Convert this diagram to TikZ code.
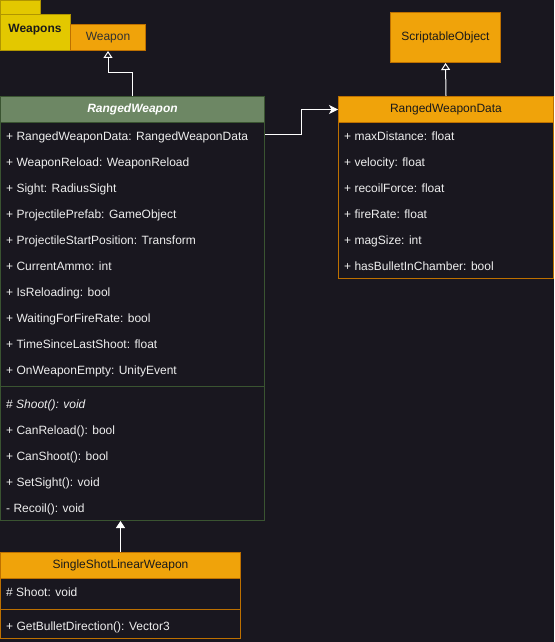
\documentclass[tikz,border=0pt]{standalone}
\usepackage{fontspec}
\setmainfont{Liberation Sans}
\usetikzlibrary{arrows.meta,calc}
\definecolor{bg}{RGB}{25,23,31}
\definecolor{orangefill}{HTML}{F0A30A}
\definecolor{orangeline}{HTML}{BD7000}
\definecolor{greenfill}{HTML}{6D8764}
\definecolor{greenline}{HTML}{3A5431}
\definecolor{yellowfill}{HTML}{E3C800}
\definecolor{yellowline}{HTML}{B09500}
\definecolor{rowtext}{HTML}{EEEEEE}
\definecolor{darktext}{HTML}{1A1A1A}
\begin{document}
\begin{tikzpicture}[x=1pt,y=-1pt,
  font=\fontsize{12}{14}\selectfont,
  classbox/.style={draw=#1, line width=1pt, anchor=north west, inner sep=0pt},
  hdr/.style={fill=#1fill, draw=#1line, line width=1pt, anchor=north west, inner sep=0pt, minimum height=26pt},
  row/.style={anchor=base west, inner sep=0pt, text=rowtext},
  inherit/.style={draw=white, line width=1pt, -{Triangle[open, length=7pt, width=9pt]}},
  inheritfilled/.style={draw=white, line width=1pt, -{Triangle[length=7pt, width=9pt, fill=white]}},
  assoc/.style={draw=white, line width=1pt, -{Stealth[length=9pt, width=9pt, inset=2.5pt]}}
]
\useasboundingbox (0,0) rectangle (554,642);
\fill[bg] (0,0) rectangle (554,642);

% Weapons package
\node[hdr=yellow, minimum width=40pt, minimum height=14pt] (pkgtab) at (0,0) {};
\node[hdr=yellow, minimum width=70pt, minimum height=36pt] (pkg) at (0,14) {};
\node[text=darktext, font=\fontsize{12}{14}\selectfont\bfseries] (pkglabel) at (35,30) {Weapons};
\node[hdr=orange, minimum width=75pt] (weapon) at (70,24) {};
\node[text=darktext!90!white] (weaponlabel) at (weapon.center) {Weapon};

% ScriptableObject
\node[hdr=orange, minimum width=110pt, minimum height=50pt, text=darktext] (so) at (390,12) {ScriptableObject};

% RangedWeapon
\node[classbox=greenline, minimum width=264pt, minimum height=424pt] (rw) at (0,96) {};
\node[hdr=green, minimum width=264pt, text=white, font=\fontsize{12}{14}\selectfont\bfseries\itshape] (rwh) at (0,96) {RangedWeapon};
\draw[greenline, line width=1pt] (0,386) -- (264,386);
\node[row] (a1) at (6,140) {+ RangedWeaponData: RangedWeaponData};
\node[row] (a2) at (6,166) {+ WeaponReload: WeaponReload};
\node[row] (a3) at (6,192) {+ Sight: RadiusSight};
\node[row] (a4) at (6,218) {+ ProjectilePrefab: GameObject};
\node[row] (a5) at (6,244) {+ ProjectileStartPosition: Transform};
\node[row] (a6) at (6,270) {+ CurrentAmmo: int};
\node[row] (a7) at (6,296) {+ IsReloading: bool};
\node[row] (a8) at (6,322) {+ WaitingForFireRate: bool};
\node[row] (a9) at (6,348) {+ TimeSinceLastShoot: float};
\node[row] (a10) at (6,374) {+ OnWeaponEmpty: UnityEvent};
\node[row] (m1) at (6,408) {\# \textit{Shoot(): void}};
\node[row] (m2) at (6,434) {+ CanReload(): bool};
\node[row] (m3) at (6,460) {+ CanShoot(): bool};
\node[row] (m4) at (6,486) {+ SetSight(): void};
\node[row] (m5) at (6,512) {- Recoil(): void};

% RangedWeaponData
\node[classbox=orangeline, minimum width=215pt, minimum height=182pt] (rwd) at (338,96) {};
\node[hdr=orange, minimum width=215pt, text=darktext] (rwdh) at (338,96) {RangedWeaponData};
\node[row] (d1) at (344,140) {+ maxDistance: float};
\node[row] (d2) at (344,166) {+ velocity: float};
\node[row] (d3) at (344,192) {+ recoilForce: float};
\node[row] (d4) at (344,218) {+ fireRate: float};
\node[row] (d5) at (344,244) {+ magSize: int};
\node[row] (d6) at (344,270) {+ hasBulletInChamber: bool};

% SingleShotLinearWeapon
\node[classbox=orangeline, minimum width=240pt, minimum height=86pt] (ss) at (0,552) {};
\node[hdr=orange, minimum width=240pt, text=darktext] (ssh) at (0,552) {SingleShotLinearWeapon};
\draw[orangeline, line width=1pt] (0,609) -- (240,609);
\node[row] (s1) at (6,596) {\# Shoot: void};
\node[row] (s2) at (6,630) {+ GetBulletDirection(): Vector3};

% connectors
\draw[inherit] (rwh.north) -- ++(0,-24) -| (weapon.south);
\draw[inherit] (rwdh.north) -- (so.south);
\draw[inheritfilled] (ssh.north) -- (ssh.north |- rw.south);
\draw[assoc] ($(rw.north east)+(0,38)$) -- ++(36,0) |- (rwdh.west);
\end{tikzpicture}
\end{document}
